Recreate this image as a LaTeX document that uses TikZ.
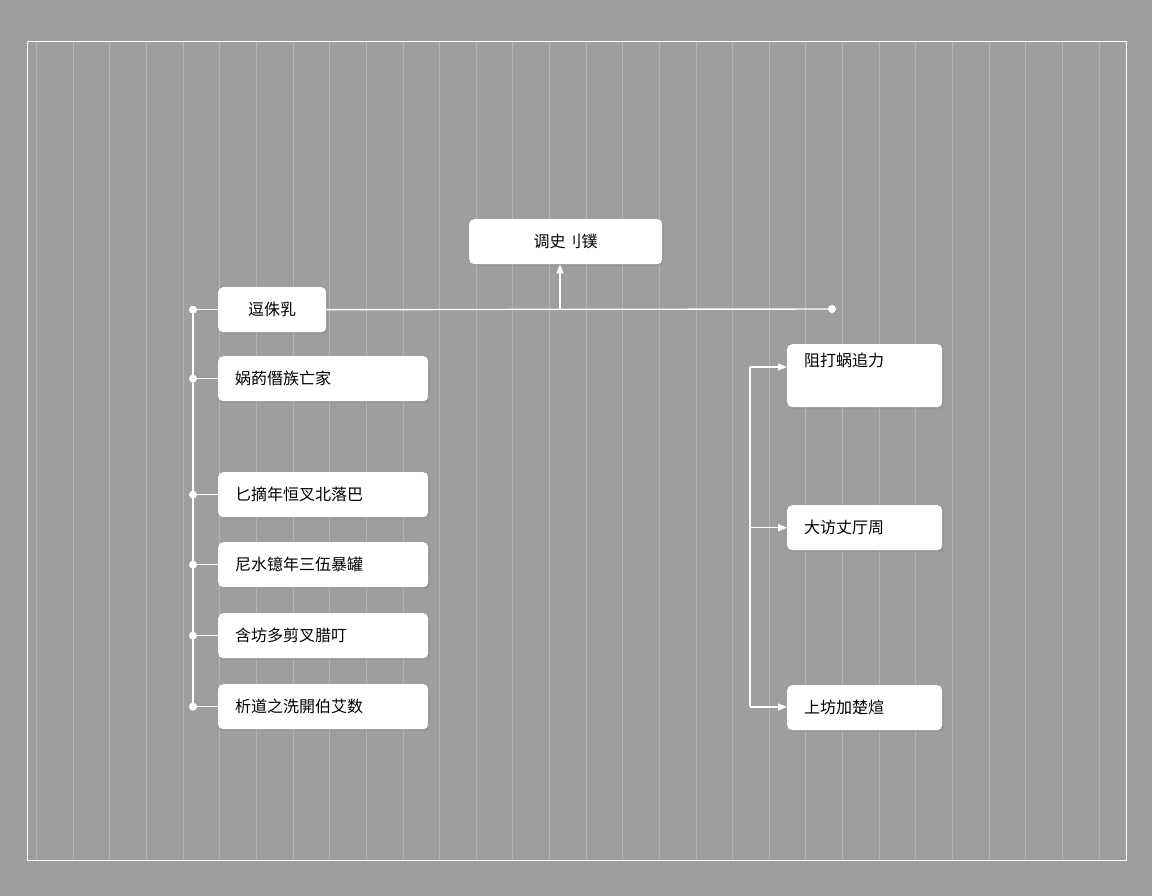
\documentclass[tikz,border=0pt]{standalone}
\usepackage{fontspec}
\newfontfamily\cjk{Noto Sans CJK SC}
\usetikzlibrary{shadows,arrows.meta}
\definecolor{bg}{HTML}{9E9E9E}
\definecolor{gridc}{HTML}{B4B4B4}
\begin{document}
\begin{tikzpicture}[x=1pt,y=-1pt]
        \tikzset{
        box/.style={rectangle, rounded corners=5pt, fill=white, draw=none,
          drop shadow={shadow xshift=2pt, shadow yshift=-2pt, opacity=0.25},
          font=\cjk\fontsize{16}{18}\selectfont, align=left, anchor=north west,
          inner xsep=17pt, inner ysep=0pt, minimum height=45pt},
        wire/.style={draw=white, line width=1.4pt},
        arr/.style={wire, -{Triangle[width=7pt,length=9pt]}},
        dot/.style={circle, fill=white, inner sep=0pt, minimum size=8pt}
        }
        \fill[bg] (0,0) rectangle (1152,896);
        \draw[gridc, line width=0.8pt] (27,42) grid[xstep=36.63,ystep=36.6] (1126,860);
        \draw[white, line width=1pt] (27,42) rectangle (1126,860);

        \node[box, minimum width=193pt, text width=159pt, align=center] (top) at (469,219) {调史刂镤};
        \node[box, minimum width=108pt] (n1) at (218,287) {逗侏乳};
        \node[box, minimum width=210pt, text width=176pt] (n2) at (218,356) {娲菂僭族亡家};
        \node[box, minimum width=210pt, text width=176pt] (n3) at (218,472) {匕摘年恒叉北落巴};
        \node[box, minimum width=210pt, text width=176pt] (n4) at (218,542) {尼水镱年三伍暴罐};
        \node[box, minimum width=210pt, text width=176pt] (n5) at (218,613) {含坊多剪叉腊叮};
        \node[box, minimum width=210pt, text width=176pt] (n6) at (218,684) {析道之洗開伯艾数};
        \node[box, minimum width=155pt, text width=121pt, minimum height=63pt, text depth=32pt] (r1) at (787,344) {阻打蜗追力};
        \node[box, minimum width=155pt, text width=121pt] (r2) at (787,505) {大访丈厅周};
        \node[box, minimum width=155pt, text width=121pt] (r3) at (787,685) {上坊加楚煊};

        % left bus
        \coordinate (b1) at (193,309);
        \coordinate (b6) at (193,706);
        \draw[wire] (b1) -- (b6);
        \foreach \n in {n1,n2,n3,n4,n5,n6} {
          \node[dot] (d\n) at (b1 |- \n.west) {};
          \draw[wire] (d\n) -- (\n.west);
        }
        % top line
        \node[dot] (e1) at (832,309) {};
        \draw[wire] (n1.east) -- (e1);
        \coordinate (t1) at (560,309);
        \draw[arr] (t1) -- (t1 |- top.south);

        % right bus
        \coordinate (c1) at (750,367);
        \coordinate (c3) at (750,707);
        \draw[wire] (c1) -- (c3);
        \draw[arr] (c1) -- (r1.west |- c1);
        \draw[arr] (c1 |- r2.west) -- (r2.west);
        \draw[arr] (c3) -- (r3.west |- c3);
\end{tikzpicture}
\end{document}
